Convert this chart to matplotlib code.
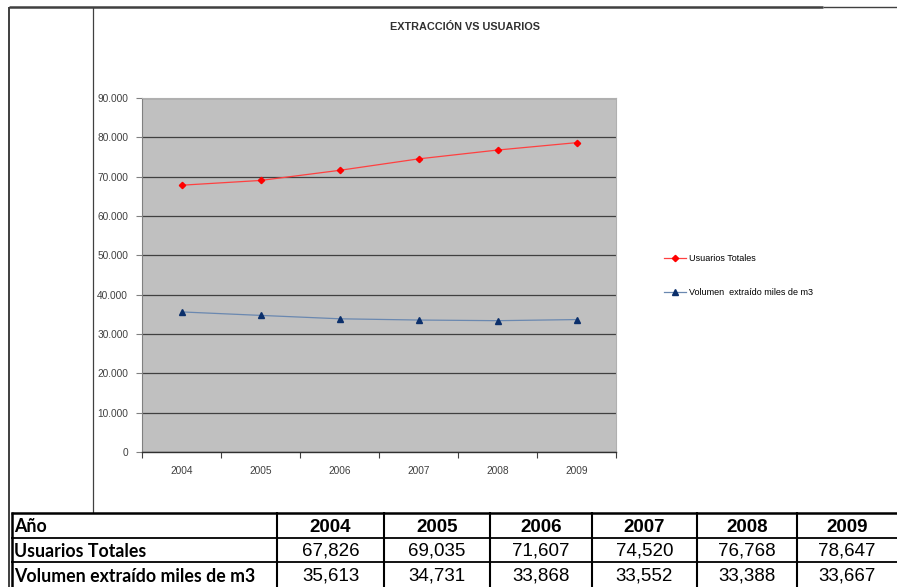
import matplotlib
matplotlib.use("Agg")
import matplotlib.pyplot as plt
from matplotlib.lines import Line2D
from matplotlib.ticker import FuncFormatter, FixedLocator

years = ["2004", "2005", "2006", "2007", "2008", "2009"]
usuarios = [67826, 69035, 71607, 74520, 76768, 78647]
volumen = [35613, 34731, 33868, 33552, 33388, 33667]
series_labels = ["Usuarios Totales", "Volumen  extraído miles de m3"]
row_labels = ["Año", "Usuarios Totales", "Volumen extraído miles de m3"]
title = "EXTRACCIÓN VS USUARIOS"

W, H = 897, 587
fig = plt.figure(figsize=(W / 100, H / 100), dpi=100)
fig.patch.set_facecolor("white")


def fx(px):
    return px / W


def fy(py):
    return 1 - py / H


def hline(y, x0, x1, lw=1.0, color="black"):
    fig.add_artist(Line2D([fx(x0), fx(x1)], [fy(y), fy(y)], lw=lw, color=color,
                          transform=fig.transFigure, solid_capstyle="butt"))


def vline(x, y0, y1, lw=1.0, color="black"):
    fig.add_artist(Line2D([fx(x), fx(x)], [fy(y0), fy(y1)], lw=lw, color=color,
                          transform=fig.transFigure, solid_capstyle="butt"))


# ---- chart area ----
left, right, top, bottom = 142, 616, 98, 452
ax = fig.add_axes([fx(left), fy(bottom), fx(right - left), (bottom - top) / H])
ax.set_facecolor("#c0c0c0")
x = list(range(len(years)))

ax.plot(x, usuarios, color="#ff4040", lw=0.9, marker="D", ms=3.2,
        markerfacecolor="red", markeredgecolor="red", label=series_labels[0])
ax.plot(x, volumen, color="#6a88b0", lw=0.9, marker="^", ms=4.5,
        markerfacecolor="#0b2f6b", markeredgecolor="#0b2f6b", label=series_labels[1])

ax.set_xlim(-0.5, len(years) - 0.5)
ax.set_ylim(0, 90000)
ax.set_yticks(range(0, 90001, 10000))
ax.yaxis.set_major_formatter(FuncFormatter(lambda v, p: f"{int(v):,}".replace(",", ".")))
ax.xaxis.set_major_locator(FixedLocator([i - 0.5 for i in range(len(years) + 1)]))
ax.xaxis.set_minor_locator(FixedLocator(x))
ax.set_xticklabels([])
ax.set_xticklabels(years, minor=True)
ax.tick_params(axis="x", which="major", length=4, width=0.8, color="#404040", direction="out")
ax.tick_params(axis="x", which="minor", length=0, pad=10, labelsize=7.3, labelcolor="#404040")
ax.tick_params(axis="y", length=4, width=0.8, color="#808080", direction="out",
               labelsize=7.3, labelcolor="#404040", pad=6)
for lab in ax.get_xticklabels(minor=True) + ax.get_yticklabels():
    lab.set_fontfamily("Liberation Sans")

ax.grid(axis="y", color="#404040", lw=0.9)
ax.set_axisbelow(True)
for s in ["top", "right"]:
    ax.spines[s].set_color("#b0b0b0")
    ax.spines[s].set_linewidth(0.8)
ax.spines["left"].set_color("#808080")
ax.spines["left"].set_linewidth(0.8)
ax.spines["bottom"].set_color("#303030")
ax.spines["bottom"].set_linewidth(1.0)

fig.text(fx(465), fy(27), title, ha="center", va="center", fontsize=7.8,
         fontweight="bold", color="#303030", family="Liberation Sans")

fig.legend(loc="center left", bbox_to_anchor=(fx(656), fy(275.5)), frameon=False,
           labelspacing=2.75, handlelength=2.4, handletextpad=0.3,
           prop={"family": "Liberation Sans", "size": 6.5})

# ---- outer frame ----
hline(7, 9, 823, lw=1.8, color="#404040")
hline(7, 823, 897, lw=1.0, color="#404040")
vline(9, 7, 587, lw=1.3, color="#303030")
vline(93, 7, 513, lw=0.9, color="#404040")

# ---- data table ----
col_edges = [12, 277, 384, 490, 592, 697, 797, 897]
row_edges = [513, 538, 562, 587]
hline(row_edges[0], 11, 897, lw=1.8)
hline(row_edges[1], 11, 897, lw=1.3)
hline(row_edges[2], 11, 897, lw=1.3)
vline(col_edges[0], 512, 587, lw=1.8)
for cx in col_edges[1:-1]:
    vline(cx, 512, 587, lw=1.5)

row_vals = [years, [f"{v:,}" for v in usuarios], [f"{v:,}" for v in volumen]]
for r in range(3):
    cy = (row_edges[r] + row_edges[r + 1]) / 2 + 1.5
    fig.text(fx(14), fy(cy), row_labels[r], ha="left", va="center", fontsize=12.8,
             fontweight="bold", family="Lato", color="black")
    for c in range(len(years)):
        cxm = (col_edges[c + 1] + col_edges[c + 2]) / 2
        fig.text(fx(cxm), fy(cy), row_vals[r][c], ha="center", va="center",
                 fontsize=13.5, fontweight="bold" if r == 0 else "normal",
                 family="Liberation Sans", color="black")

fig.savefig("out.png", dpi=100)
